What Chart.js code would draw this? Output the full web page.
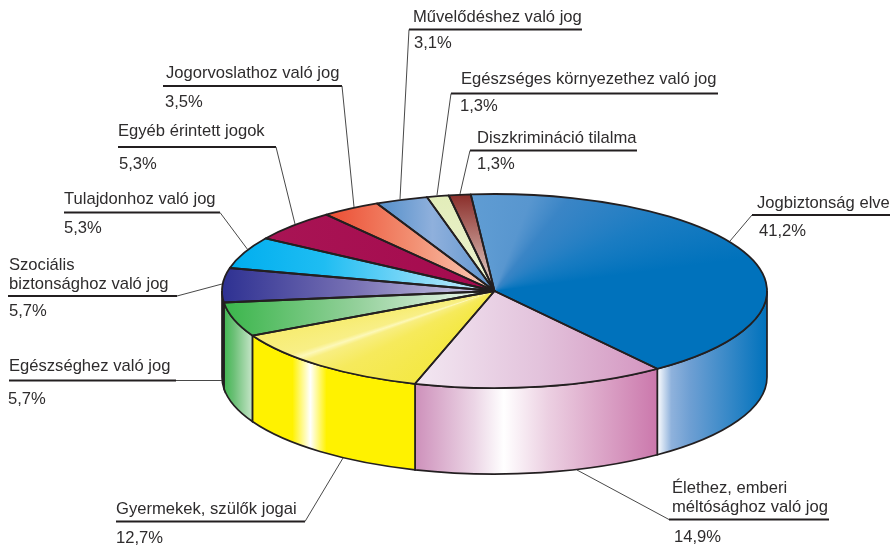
<!DOCTYPE html>
<html><head><meta charset="utf-8">
<style>html,body{margin:0;padding:0;background:#fff}#w{position:relative;width:895px;height:547px}</style>
<script src="https://cdn.jsdelivr.net/npm/chart.js@4"></script>
</head><body><div id="w"><canvas id="c"></canvas></div>
<script>
const categories = [["Jogbiztonság elve"],["Élethez, emberi","méltósághoz való jog"],["Gyermekek, szülők jogai"],["Egészséghez való jog"],["Szociális","biztonsághoz való jog"],["Tulajdonhoz való jog"],["Egyéb érintett jogok"],["Jogorvoslathoz való jog"],["Művelődéshez való jog"],["Egészséges környezethez való jog"],["Diszkrimináció tilalma"]];
const shares = [41.2,14.9,12.7,5.7,5.7,5.3,5.3,3.5,3.1,1.3,1.3];

// Drawing style: ellipse of the pie on the page
const PIE = {cx:494.5, cy:291, rx:272.5, ry:97, depth:86, rotation:-5};
const INK = '#231f20', TEXT = '#2e2c2d';
// top-surface fills: linear [x0,y0,x1,y1,stops...] in page pixels, or {conic:[[deg,colour]...]} in pie degrees
const topFills = [
 {conic:[[-5,'#5f9cd3'],[8,'#5896cf'],[16,'#3a85c6'],[40,'#1a7cc2'],[70,'#0072bc'],[144,'#0072bc']]},
 [420,0,657,0,[0,'#f2e6f1'],[.5,'#e3c3dc'],[1,'#d394bf']],
 {conic:[[197,'#f4e845'],[215,'#f6ea5c'],[224,'#f8ee80'],[226.5,'#fdf8b8'],[229,'#f8ef86'],[243,'#f7ec70']]},
 [222,0,490,0,[0,'#39b54a'],[.5,'#93d09a'],[1,'#f3f9f3']],
 [222,0,495,0,[0,'#2e3192'],[.5,'#7a73b5'],[1,'#d5d3ea']],
 [232,0,495,0,[0,'#00aeef'],[.35,'#1fbdf2'],[.75,'#8fdcf8'],[1,'#d0effb']],
 [268,0,495,0,[0,'#a81454'],[1,'#a50a4e']],
 [330,0,495,0,[0,'#ec4f35'],[.5,'#f28f72'],[1,'#fbd0bc']],
 [385,0,480,0,[0,'#5b93cc'],[.5,'#8fb0dc'],[1,'#6a9bd2']],
 [0,195,0,292,[0,'#e2edb9'],[1,'#eef3d2']],
 [0,195,0,292,[0,'#8b2f2b'],[1,'#ecdcd4']]
];
// side-wall gradients (horizontal), per slice: [x0,x1,[offset,colour]...]
const wallFills = [
 [657,767,[0,'#ffffff'],[.13,'#8fb2dc'],[.3,'#6e9fd3'],[1,'#0072bc']],
 [414,657,[0,'#cd8fba'],[.25,'#ecd6e6'],[.37,'#ffffff'],[.55,'#ecd0e2'],[1,'#cb78ac']],
 [252,414,[0,'#fff200'],[.25,'#fff200'],[.36,'#ffffff'],[.46,'#fff200'],[1,'#fff200']],
 [222,252,[0,'#39b54a'],[.4,'#6cc077'],[1,'#c4e4c6']],
 [222,224,[0,INK],[1,INK]],
];
// callouts: text x, baselines, rule [x0,x1,y], leader end, percent x/baseline
const callouts = [
 {x:757,base:[208],rule:[752,890,215],to:[730,241],px:759,py:236},
 {x:672,base:[493,512],rule:[669,829,519.5],to:[577,470],px:674,py:542},
 {x:116,base:[514],rule:[116,305,521.5],to:[343,458],from:1,px:116,py:543},
 {x:9,base:[371],rule:[9,176,380.5],to:[222,380.5],from:1,px:8,py:404},
 {x:9,base:[270,289],rule:[8,177,296],to:[222,284],from:1,px:9,py:316},
 {x:64,base:[204],rule:[64,220,212.5],to:[248,250],from:1,px:64,py:233},
 {x:118,base:[136],rule:[118,276,147],to:[295,224],from:1,px:119,py:169},
 {x:166,base:[78],rule:[163,342,86],to:[354,207],from:1,px:165,py:107},
 {x:413,base:[22],rule:[409,582,29.5],to:[400,199],px:414,py:48},
 {x:461,base:[84],rule:[451,718,93.5],to:[437,195],px:460,py:111},
 {x:477,base:[143],rule:[470,637,150.5],to:[460,194],px:477,py:169}
];

const canvas = document.getElementById('c');
const g = canvas.getContext('2d');
const R0 = 547/2;
const cx0 = 895/2, cy0 = 547/2;
const kx = PIE.rx/R0, ky = PIE.ry/R0;
const toChartX = x => (x-PIE.cx)/kx+cx0;
const toChartY = y => (y-PIE.cy)/ky+cy0;
const topGradients = topFills.map(spec=>{
  if(spec.conic){
    const from = PIE.rotation;
    const gr = g.createConicGradient((from-90)*Math.PI/180, cx0, cy0);
    spec.conic.forEach(([d,c])=>gr.addColorStop((d-from)/360,c));
    return gr;
  }
  const [x0,y0,x1,y1,...stops] = spec;
  const gr = g.createLinearGradient(toChartX(x0), toChartY(y0), toChartX(x1), toChartY(y1));
  stops.forEach(([o,c])=>gr.addColorStop(o,c));
  return gr;
});

const pie3d = {
  id:'pie3d',
  beforeDatasetsDraw(chart){
    const ctx = chart.ctx, arcs = chart.getDatasetMeta(0).data;
    const {cx,cy,rx,ry,depth} = PIE;
    // side walls
    arcs.forEach((a,i)=>{
      const spec = wallFills[i]; if(!spec) return;
      const TAU = Math.PI*2;
      let s = a.startAngle, e = a.endAngle;
      while(e > TAU){ s -= TAU; e -= TAU; }
      const lo = Math.max(s,0), hi = Math.min(e,Math.PI);
      if(hi <= lo) return;
      const [x0,x1,...stops] = spec;
      const gr = ctx.createLinearGradient(x0,0,x1,0);
      stops.forEach(([o,c])=>gr.addColorStop(o,c));
      ctx.save();
      ctx.beginPath();
      ctx.ellipse(cx,cy,rx,ry,0,lo,hi);
      ctx.ellipse(cx,cy+depth,rx,ry,0,hi,lo,true);
      ctx.closePath();
      ctx.fillStyle = gr; ctx.fill();
      ctx.strokeStyle = INK; ctx.lineWidth = 1.7; ctx.stroke();
      ctx.restore();
    });
    // squash the library's circular arcs into the ellipse
    ctx.save();
    ctx.translate(cx,cy); ctx.scale(kx,ky); ctx.translate(-arcs[0].x,-arcs[0].y);
  },
  afterDatasetsDraw(chart){
    const ctx = chart.ctx, arcs = chart.getDatasetMeta(0).data;
    ctx.restore();
    const {cx,cy,rx,ry} = PIE;
    ctx.save();
    ctx.strokeStyle = INK; ctx.lineJoin='round';
    arcs.forEach(a=>{
      ctx.beginPath();
      ctx.moveTo(cx,cy);
      ctx.ellipse(cx,cy,rx,ry,0,a.startAngle,a.endAngle);
      ctx.closePath();
      ctx.lineWidth = 1.8; ctx.stroke();
    });
    // callouts
    ctx.font = '16.6px "Liberation Sans"';
    ctx.textBaseline = 'alphabetic';
    callouts.forEach((c,i)=>{
      ctx.fillStyle = TEXT;
      categories[i].forEach((t,j)=>ctx.fillText(t,c.x,c.base[j]));
      ctx.fillText(String(shares[i]).replace('.',',')+'%',c.px,c.py);
      ctx.strokeStyle = INK;
      ctx.lineWidth = 1.8;
      ctx.beginPath(); ctx.moveTo(c.rule[0],c.rule[2]); ctx.lineTo(c.rule[1],c.rule[2]); ctx.stroke();
      ctx.lineWidth = 0.9; ctx.strokeStyle='#333';
      ctx.beginPath();
      ctx.moveTo(c.from?c.rule[1]:c.rule[0],c.rule[2]); ctx.lineTo(c.to[0],c.to[1]); ctx.stroke();
    });
    ctx.restore();
  }
};

canvas.width = 895; canvas.height = 547;
new Chart(canvas,{
  type:'pie',
  data:{labels:categories.map(l=>l.join(' ')),datasets:[{data:shares,backgroundColor:topGradients,borderWidth:0,clip:false}]},
  options:{responsive:false,animation:false,rotation:PIE.rotation,events:[],
    layout:{padding:0},
    plugins:{legend:{display:false},tooltip:{enabled:false},title:{display:false}}},
  plugins:[pie3d]
});
</script></body></html>
